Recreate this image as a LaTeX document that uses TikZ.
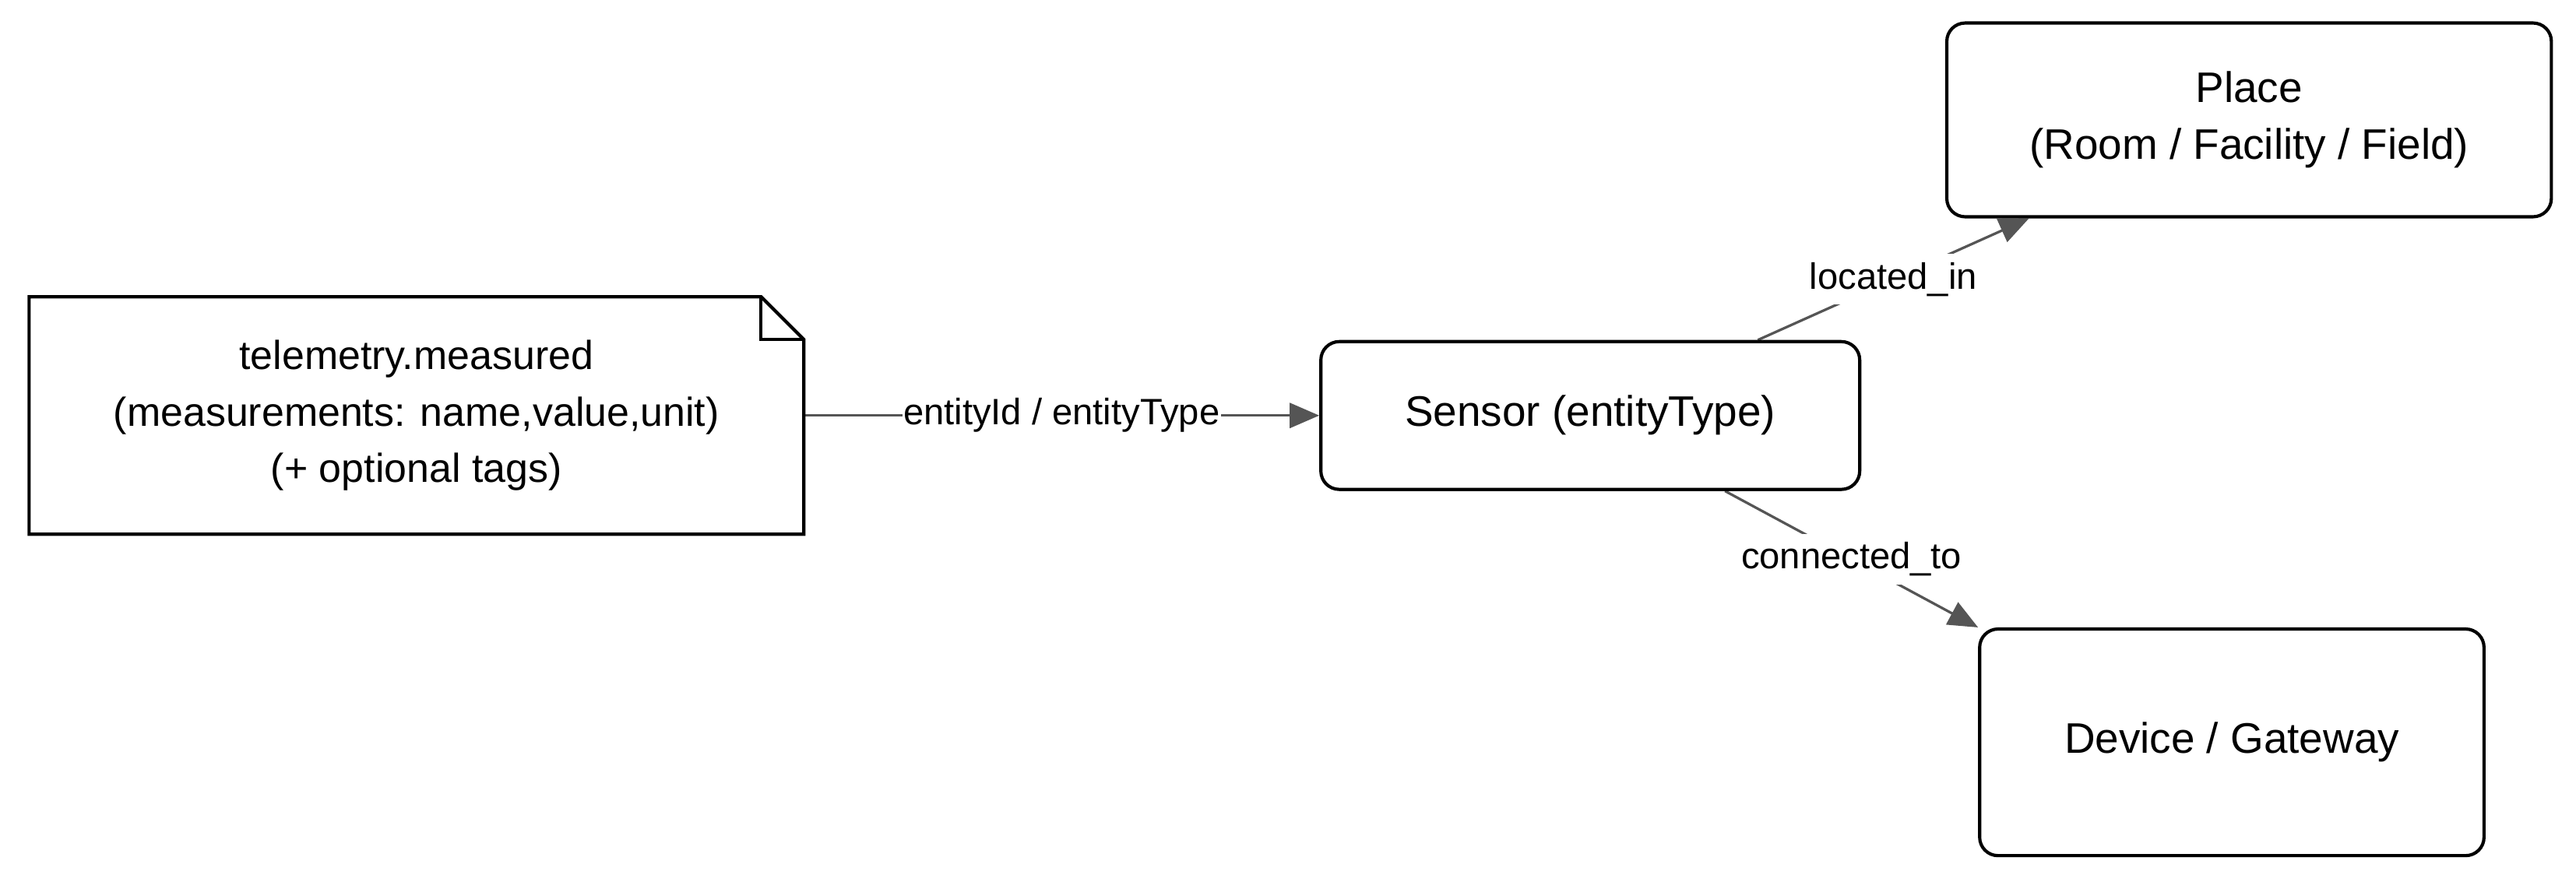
\documentclass[tikz,border=0pt]{standalone}
\usepackage{fontspec}
\setmainfont{Liberation Sans}
\usetikzlibrary{arrows.meta,backgrounds}
\pgfdeclarelayer{edgelayer}
\pgfdeclarelayer{nodelayer}
\pgfsetlayers{edgelayer,nodelayer,main}
\definecolor{edgegrey}{HTML}{555555}
\tikzstyle{none}=[inner sep=0pt]
\tikzstyle{entity}=[rectangle,rounded corners=0.28cm,draw=black,line width=1.4pt,fill=white,align=center,font=\fontsize{18.5}{24.5}\selectfont]
\tikzstyle{notebox}=[rectangle,inner sep=0pt,align=center,font=\fontsize{17.5}{24.5}\selectfont]
\tikzstyle{rel}=[draw=edgegrey,line width=1.1pt,-{Triangle[length=0.45cm,width=0.38cm]}]
\tikzstyle{rellabel}=[fill=white,inner xsep=0.5pt,inner ysep=3.5pt,font=\fontsize{15.9}{19}\selectfont]

\begin{document}
\begin{tikzpicture}
	\useasboundingbox (0,0) rectangle (39.2,13.525);
	\begin{pgfonlayer}{nodelayer}
		\node [style=notebox, minimum width=11.775cm, minimum height=3.6cm] (0) at (6.3375, 7.2) {telemetry.measured\\(measurements: name,value,unit)\\(+ optional tags)};
		\node [style=entity, minimum width=8.2cm, minimum height=2.25cm] (1) at (24.2, 7.2) {Sensor (entityType)};
		\node [style=entity, minimum width=9.2cm, minimum height=2.95cm] (2) at (34.225, 11.7) {Place\\(Room / Facility / Field)};
		\node [style=entity, minimum width=7.675cm, minimum height=3.45cm] (3) at (33.9625, 2.225) {Device / Gateway};
		\draw[line width=1.4pt] (0.north west) -- ([xshift=-0.65cm]0.north east) -- ([yshift=-0.65cm]0.north east) -- (0.south east) -- (0.south west) -- cycle;
		\draw[line width=1.4pt] ([xshift=-0.65cm]0.north east) |- ([yshift=-0.65cm]0.north east);
	\end{pgfonlayer}
	\begin{pgfonlayer}{edgelayer}
		\draw [style=rel] (0.east) to node[style=rellabel] {entityId / entityType} (1.west);
		\draw [style=rel] ([xshift=2.55cm]1.north) to node[style=rellabel] {located\_in} ([xshift=-3.35cm]2.south);
		\draw [style=rel] ([xshift=2.05cm]1.south) to node[style=rellabel] {connected\_to} (3.north west);
	\end{pgfonlayer}
\end{tikzpicture}
\end{document}
